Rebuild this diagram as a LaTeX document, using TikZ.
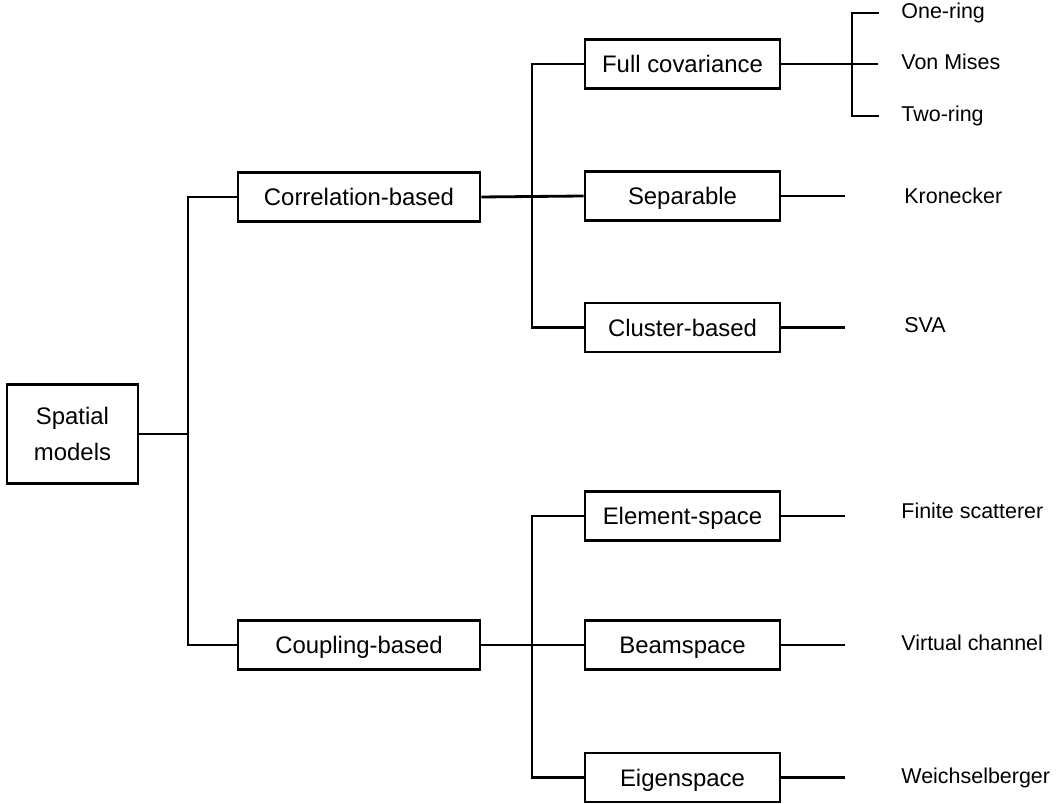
\documentclass[tikz,border=0pt]{standalone}
\usepackage{fontspec}
\setmainfont{Liberation Sans}
\begin{document}
\begin{tikzpicture}[x=0.01cm,y=-0.01cm,
  line width=0.8pt,
  box/.style={draw, line width=0.8pt, inner sep=0pt, minimum height=0.49cm,
    font=\fontsize{6.8}{10.2}\selectfont, align=center},
  midbox/.style={box, minimum width=2.42cm, text height=6pt, text depth=1pt},
  leafbox/.style={box, minimum width=1.95cm, text height=6pt, text depth=1pt},
  leaf/.style={anchor=west, inner sep=0pt, text height=4.4pt, text depth=1.2pt,
    font=\fontsize{6.1}{7}\selectfont}]
\useasboundingbox (0,0) rectangle (1058,804);

% root
\node[box, minimum width=1.31cm, minimum height=0.99cm] (root) at (72.5,434) {Spatial\\models};

% second level
\node[midbox] (corr) at (359,197) {Correlation-based};
\node[midbox] (coup) at (359,645) {Coupling-based};

% third level
\node[leafbox] (full) at (682.5,64) {Full covariance};
\node[leafbox] (sep)  at (682.5,196) {Separable};
\node[leafbox] (clus) at (682.5,327.5) {Cluster-based};
\node[leafbox] (elem) at (682.5,516) {Element-space};
\node[leafbox] (beam) at (682.5,645) {Beamspace};
\node[leafbox] (eig)  at (682.5,777.5) {Eigenspace};

% leaf labels
\node[leaf] (one)  at (900,13)  {One-ring};
\node[leaf] (von)  at (900,64)  {Von Mises};
\node[leaf] (two)  at (900,116) {Two-ring};
\node[leaf] (kron) at (903,198) {Kronecker};
\node[leaf] (sva)  at (903,327) {SVA};
\node[leaf] (fin)  at (900,513) {Finite scatterer};
\node[leaf] (virt) at (900,645) {Virtual channel};
\node[leaf] (weis) at (900,778) {Weichselberger};

% junction points
\coordinate (jl) at (188,434);
\coordinate (ju) at (532,197);
\coordinate (jd) at (532,645);
\coordinate (jb) at (852,64);
\coordinate (t1) at (879,13);
\coordinate (t2) at (878,64);
\coordinate (t3) at (879,116);
\coordinate (e1) at (845,196);
\coordinate (e2) at (845,327.5);
\coordinate (e3) at (845,516);
\coordinate (e4) at (845,645);
\coordinate (e5) at (845,777.5);

% trunk
\draw (root.east) -- (jl);
\draw (corr.west) -| (jl) |- (coup.west);

% upper branch
\draw (corr.east) -- (sep.west);
\draw (full.west) -| (ju) |- (clus.west);

% lower branch
\draw (coup.east) -- (beam.west);
\draw (elem.west) -| (jd) |- (eig.west);

% full covariance bracket
\draw (full.east) -- (jb);
\draw (t1) -| (jb) |- (t3);
\draw (jb) -- (t2);

% single leaves
\draw (sep.east)  -- (e1);
\draw (clus.east) -- (e2);
\draw (elem.east) -- (e3);
\draw (beam.east) -- (e4);
\draw (eig.east)  -- (e5);
\end{tikzpicture}
\end{document}
